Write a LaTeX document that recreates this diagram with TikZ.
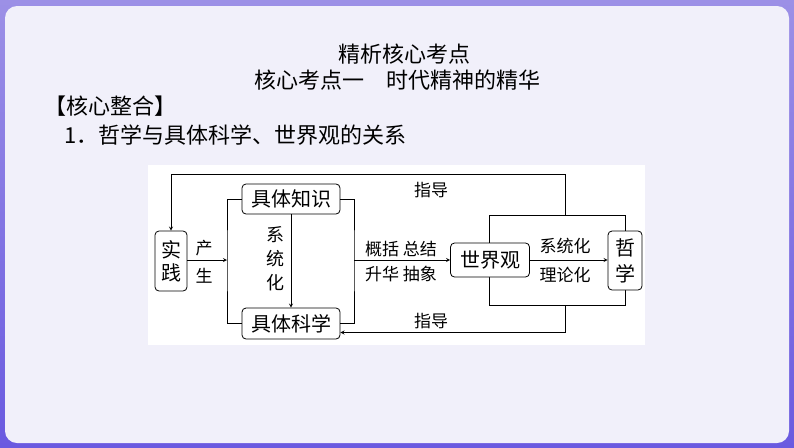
\documentclass[tikz,border=0pt]{standalone}
\usepackage{fontspec}
\newfontfamily\cjk{Noto Sans CJK SC}
\usetikzlibrary{arrows.meta}
\tikzset{>=stealth}
\definecolor{frameTop}{HTML}{9C90E6}
\definecolor{frameBot}{HTML}{6A5AE0}
\definecolor{pageBg}{HTML}{F1F0FA}

\begin{document}
\begin{tikzpicture}[x=1pt,y=-1pt,
  title/.style={font=\cjk\fontsize{22}{26}\selectfont,inner sep=0pt},
  head/.style={font=\cjk\fontsize{22}{24}\selectfont,inner sep=0pt,anchor=west},
  box/.style={draw,rounded corners=4pt,fill=white,line width=0.8pt,
    font=\cjk\fontsize{20}{24}\selectfont,inner sep=0pt},
  vbox/.style={box,align=center,minimum width=32pt,minimum height=60pt},
  lbl/.style={font=\cjk\fontsize{17}{25}\selectfont,inner sep=0pt,align=center},
  link/.style={line width=0.8pt}]
\useasboundingbox (0,0) rectangle (794,447);
% page
\fill[top color=frameTop,bottom color=frameBot] (0,0) rectangle (794,447);
\fill[pageBg,rounded corners=12pt] (5,6) rectangle (789,443);

\node[title] (t1) at (404,54) {精析核心考点};
\node[title] (t2) at (397,80) {核心考点一　时代精神的精华};
\node[head] (hd) at (44,106) {【核心整合】};
\node[head] (q1) at (64,135) {1．哲学与具体科学、世界观的关系};

% diagram
\fill[white] (148,165) rectangle (645,345);
\coordinate (bt) at (489,215);
\coordinate (bb) at (625,305);
\draw[link] (bt) rectangle (bb);

\node[vbox] (sj) at (171,261) {实\\[-1pt]践};
\node[box,minimum width=98pt,minimum height=30pt] (zs) at (291,199) {具体知识};
\node[box,minimum width=98pt,minimum height=31pt] (kx) at (291,323.5) {具体科学};
\node[box,minimum width=79pt,minimum height=34pt] (sjg) at (490,260) {世界观};
\node[vbox,minimum width=34pt,minimum height=59pt] (zx) at (625,260.5) {哲\\[2pt]学};

% brackets
\coordinate (lb) at (227,260);
\coordinate (rb) at (354,260);
\draw[link] (zs.west) -| (lb) |- (kx.west);
\draw[link] (zs.east) -| (rb) |- (kx.east);

% arrows
\draw[link,->] (sj.east |- lb) -- (lb);
\draw[link,->] (zs) -- (kx);
\draw[link,->] (rb) -- (sjg.west);
\draw[link,->] (sjg.east) -- (zx.west |- sjg);
\coordinate (ft) at (565,215);
\coordinate (fb) at (565,305);
\draw[link,->] (ft) -- ++(0,-41) -| (sj.north);
\draw[link,->] (fb) |- ([yshift=-9pt]kx.east);

% labels
\node[lbl] (cs) at (204,262) {产\\[3pt]生};
\node[lbl,font=\cjk\fontsize{18}{24}\selectfont] (xth) at (275,259) {系\\统\\化};
\node[lbl] (gk) at (401,262) {概括 总结\\升华 抽象};
\node[lbl] (xl) at (565,261) {系统化\\[4pt]理论化};
\node[lbl] (zd1) at (431,190) {指导};
\node[lbl] (zd2) at (431,321) {指导};
\end{tikzpicture}
\end{document}
